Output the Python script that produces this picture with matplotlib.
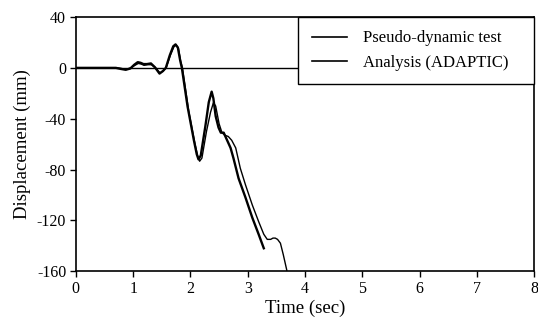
import matplotlib
matplotlib.use("Agg")
import matplotlib.pyplot as plt

plt.rcParams['font.family'] = ['Liberation Serif', 'DejaVu Serif']
plt.rcParams['axes.unicode_minus'] = False

# pseudo-dynamic test (thicker line)
test_t = [0.0, 0.70, 0.78, 0.87, 0.95, 1.02, 1.08, 1.13, 1.18, 1.24, 1.31, 1.38, 1.46, 1.52, 1.57,
          1.64, 1.70, 1.74, 1.78, 1.82, 1.85, 1.95, 2.06, 2.11, 2.14, 2.18, 2.26, 2.32, 2.37,
          2.40, 2.44, 2.49, 2.53, 2.58, 2.61, 2.70, 2.75, 2.84, 2.96, 3.08, 3.19, 3.28]
test_d = [0.0, 0.0, -0.8, -1.5, -0.5, 2.5, 4.5, 4.0, 3.0, 3.0, 3.5, 0.5, -4.5, -2.5, 0.0,
          10.0, 17.0, 18.5, 16.0, 6.0, 0.0, -30.5, -57.0, -68.0, -72.0, -69.0, -46.0, -27.0, -18.7,
          -24.0, -38.0, -47.0, -51.0, -51.0, -54.0, -63.0, -71.0, -87.0, -102.0, -118.0, -131.0, -142.0]

# analysis (ADAPTIC)
ana_t = [0.0, 0.72, 0.80, 0.88, 0.96, 1.03, 1.09, 1.14, 1.19, 1.25, 1.32, 1.39, 1.47, 1.53, 1.58,
         1.65, 1.71, 1.75, 1.79, 1.83, 1.86, 1.97, 2.08, 2.13, 2.16, 2.20, 2.28, 2.35, 2.40,
         2.44, 2.50, 2.55, 2.60, 2.66, 2.72, 2.79, 2.87, 2.96, 3.08, 3.19, 3.28, 3.34,
         3.40, 3.44, 3.48, 3.52, 3.57, 3.62, 3.68, 3.71]
ana_d = [0.0, 0.0, -0.5, -1.2, 0.0, 2.0, 3.5, 3.0, 2.0, 2.5, 2.5, 0.0, -4.0, -2.0, 0.5,
         10.0, 16.5, 18.0, 15.5, 5.0, 0.0, -34.0, -60.0, -70.0, -73.5, -71.0, -50.0, -35.0, -27.5,
         -30.0, -44.0, -51.0, -53.0, -54.0, -57.0, -63.0, -79.0, -92.0, -108.0, -121.0, -131.0, -135.0,
         -135.0, -134.0, -134.0, -135.0, -138.0, -147.0, -159.0, -168.0]

xticks = [0, 1, 2, 3, 4, 5, 6, 7, 8]
yticks = [40, 0, -40, -80, -120, -160]

fig = plt.figure(figsize=(5.38, 3.22), dpi=100)
ax = fig.add_axes([0.141, 0.158, 0.852, 0.789])

ax.axhline(0, color='black', lw=1.0, zorder=1)
ax.plot(test_t, test_d, color='black', lw=1.7, label='Pseudo-dynamic test')
ax.plot(ana_t, ana_d, color='black', lw=1.0, label='Analysis (ADAPTIC)')

ax.set_xlim(0, 8)
ax.set_ylim(-160, 40)
ax.set_xticks(xticks)
ax.set_yticks(yticks)
ax.tick_params(direction='out', length=4, width=1, labelsize=11.5, pad=3)
for s in ax.spines.values():
    s.set_linewidth(1.2)

ax.set_xlabel('Time (sec)', fontsize=13.5, labelpad=2)
ax.set_ylabel('Displacement (mm)', fontsize=13.5, labelpad=4)

leg = ax.legend(loc='upper right', bbox_to_anchor=(0.485, 0.0, 0.515, 1.0), mode='expand',
                borderaxespad=0, fancybox=False, framealpha=1,
                edgecolor='black', fontsize=12, handlelength=2.1, handletextpad=1.0,
                borderpad=0.8, labelspacing=0.5)
leg.get_frame().set_linewidth(1.0)
for line in leg.get_lines():
    line.set_linewidth(1.2)

fig.savefig('out.png', dpi=100)
